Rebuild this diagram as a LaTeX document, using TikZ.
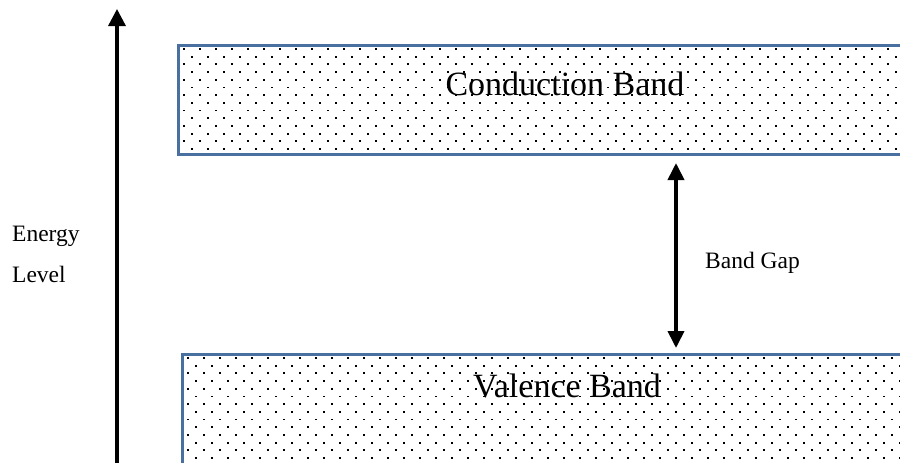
\documentclass[tikz,border=0pt]{standalone}
\usepackage{fontspec}
\setmainfont{Liberation Serif}
\usetikzlibrary{arrows.meta}
\definecolor{bandedge}{RGB}{74,112,160}
\tikzset{
  band/.style={draw=bandedge, line width=2.6pt, rectangle, anchor=north west, inner sep=0pt},
  bandlabel/.style={font=\fontsize{34}{34}\selectfont, inner sep=0pt},
  smalllabel/.style={font=\fontsize{23.5}{23.5}\selectfont, inner sep=0pt, anchor=west},
  axisarrow/.style={line width=3.3pt, -{Triangle[length=17pt,width=17pt]}},
  gaparrow/.style={line width=3.8pt, {Triangle[length=17pt,width=16pt]}-{Triangle[length=17pt,width=16pt]}},
  dot/.style={fill=black}
}
\newcommand{\dotfield}[4]{% x0, y0, x1, y1
  \begin{scope}
    \clip (#1,#2) rectangle (#3,#4);
    \foreach \r in {0,...,16} {
      \pgfmathsetmacro\yy{#2+4+\r*7.7}
      \pgfmathsetmacro\xo{#1+6+mod(\r,2)*8}
      \foreach \c in {0,...,46} {
        \fill[dot] ({\xo+\c*16},\yy) rectangle +(1.8,1.8);
      }
    }
  \end{scope}
}
\begin{document}
\begin{tikzpicture}[x=1pt,y=-1pt]
  \clip (0,0) rectangle (900,463);
  \fill[white] (0,0) rectangle (900,463);

  % dotted fill of the two bands
  \dotfield{177}{44}{905}{153}
  \dotfield{181}{353}{905}{470}

  % band outlines (open to the right)
  \node[band, minimum width=740pt, minimum height=109pt] (cb) at (177,44) {};
  \node[band, minimum width=740pt, minimum height=120pt] (vb) at (181,353) {};

  \node[bandlabel] (cbl) at (565,84) {Conduction Band};
  \node[bandlabel] (vbl) at (567,386) {Valence Band};

  % energy axis
  \coordinate (axbot) at (117,470);
  \coordinate (axtop) at (117,9);
  \draw[axisarrow] (axbot) -- (axtop);
  \node[smalllabel] (en) at (12,236) {Energy};
  \node[smalllabel] (lv) at (12,274) {Level};

  % band gap
  \coordinate (gtop) at (676,153);
  \coordinate (gbot) at (676,353);
  \draw[gaparrow, shorten <=10pt, shorten >=5pt] (gtop) -- (gbot);
  \node[smalllabel] (bg) at (705,263) {Band Gap};
\end{tikzpicture}
\end{document}
